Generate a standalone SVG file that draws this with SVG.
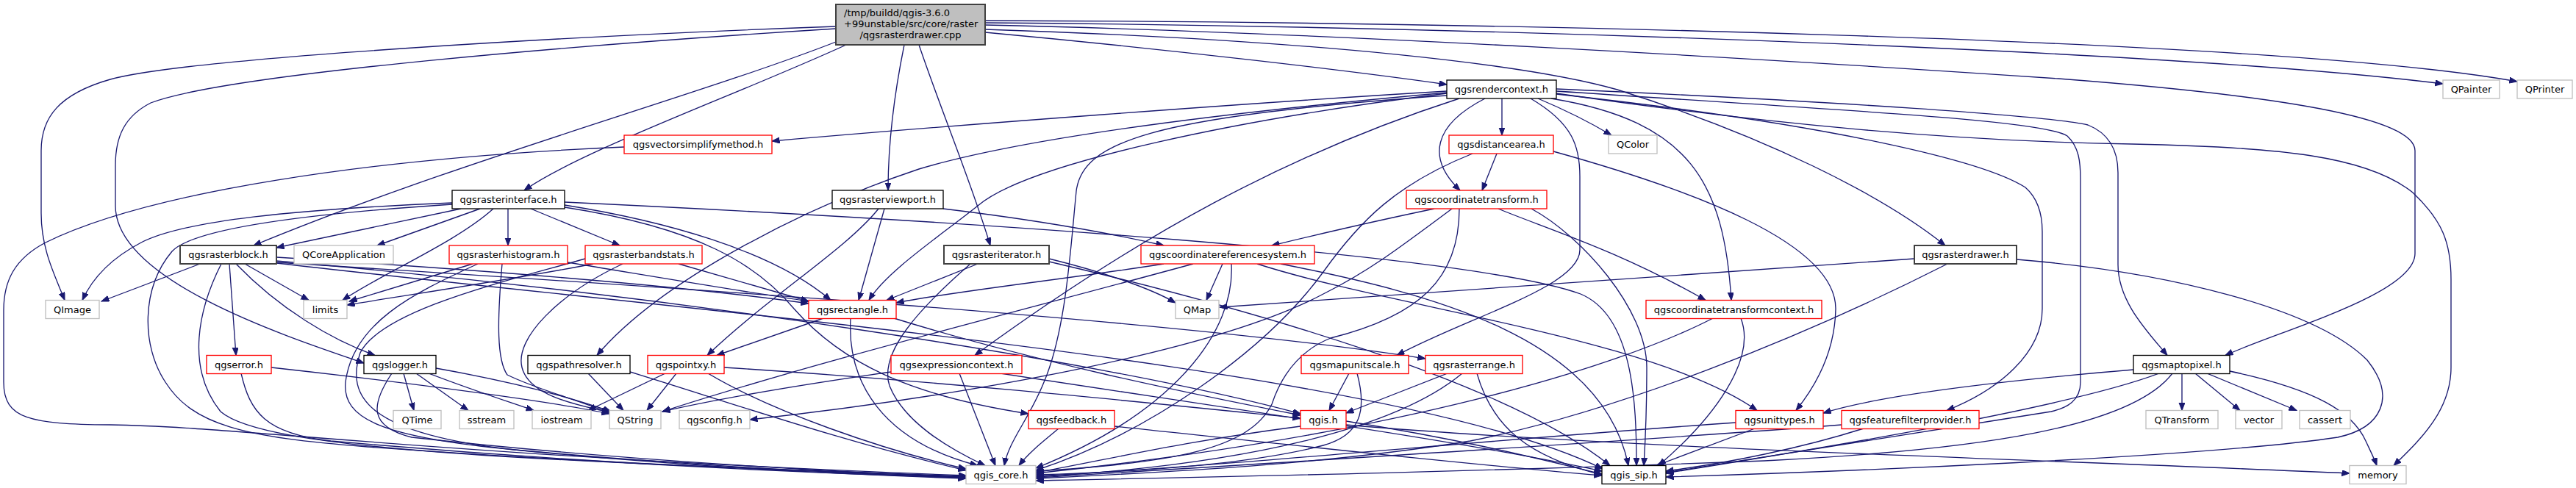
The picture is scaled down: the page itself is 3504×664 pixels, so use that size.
<svg xmlns="http://www.w3.org/2000/svg" width="3504" height="664" viewBox="0 0 3504 664">
<defs>
<marker id="a" markerWidth="12" markerHeight="9" refX="10.5" refY="4" orient="auto" markerUnits="userSpaceOnUse"><path d="M0,0 L10.5,4 L0,8 z" fill="#191970" stroke="#191970" stroke-width="1"/></marker>
</defs>
<style>
.e path{fill:none;stroke:#191970;stroke-width:1.33;marker-end:url(#a)}
rect{fill:#fff;stroke-width:1.33}
.b rect{stroke:#000}
.d rect{stroke:#404040;stroke-width:2}
.r rect{stroke:#ff0000}
.g rect{stroke:#bfbfbf}
text{font-family:"DejaVu Sans","Liberation Sans",sans-serif;font-size:13px;fill:#000;text-anchor:middle}
</style>
<rect width="3504" height="664" fill="#fff" stroke="none"/>
<g class="e" id="edges">
<path d="M1137,36 C800,48 260,78 150,108 C80,128 56,160 56,205 L56,290 C56,340 75,375 88,408.5"/>
<path d="M1137,39 C800,60 310,100 205,140 C170,158 157,185 157,225 L157,280 C157,380 380,455 495,494"/>
<path d="M1137,57 C950,130 620,220 345,334"/>
<path d="M1151,61 C1000,130 790,205 713,259"/>
<path d="M1230,61 C1218,120 1208,190 1208,259"/>
<path d="M1250,61 C1280,150 1322,250 1347,334"/>
<path d="M1340,44 C1600,68 1850,98 1968,115"/>
<path d="M1340,40 C1800,55 2080,88 2200,122 C2400,185 2560,265 2646,334"/>
<path d="M1340,34 C1800,44 2400,80 2800,107 C3100,130 3285,160 3285,205 L3285,345 C3285,400 3100,450 3027,483.5"/>
<path d="M1340,31 C2000,36 2950,68 3323,114"/>
<path d="M1340,28 C2000,30 3100,52 3424,111"/>
<path d="M1968,124 C1700,140 1300,170 1050,192"/>
<path d="M2043,134 L2043,184"/>
<path d="M2092,134 C2130,150 2162,166 2192,184"/>
<path d="M2020,134 C1950,170 1940,215 1986,259"/>
<path d="M1968,127 C1700,160 1400,220 1330,280 C1280,320 1205,370 1182,408.5"/>
<path d="M2110,134 C2300,165 2345,250 2355,408.5"/>
<path d="M1968,126 C1700,150 1400,185 1250,230 C1100,280 900,380 812,483.5"/>
<path d="M1985,134 C1750,210 1550,320 1326,483.5"/>
<path d="M2082,134 C2140,168 2149,200 2149,240 L2149,340 C2149,390 2000,430 1900,483.5"/>
<path d="M2117,121 C2500,138 2790,158 2840,170 C2870,182 2881,205 2881,235 L2881,360 C2881,410 2920,450 2948,483.5"/>
<path d="M2117,128 C2500,170 2700,220 2755,255 C2772,270 2778,290 2778,315 L2778,420 C2778,480 2720,530 2648,558.5"/>
<path d="M1968,130 C1560,158 1472,195 1464,260 C1456,340 1450,450 1420,520 C1400,570 1372,600 1366,633.5"/>
<path d="M2117,124 C2500,150 2780,163 2812,185 C2828,200 2830,220 2830,245 L2830,520 C2830,545 2812,555 2790,560 C2600,590 2400,622 2266,643"/>
<path d="M2117,127 C2400,168 2650,192 2900,196 C3100,200 3220,212 3282,262 C3322,300 3334,330 3334,380 L3334,500 C3334,560 3290,600 3256,633.5"/>
<path d="M849,200 C500,215 200,262 62,330 C20,352 5,382 5,422 L5,520 C5,570 40,577 150,578 C320,580 600,620 1314,647"/>
<path d="M2036,209 L2016,259"/>
<path d="M2003,209 C1900,250 1850,300 1800,370 C1720,480 1560,590 1409,640"/>
<path d="M2113,206 C2300,258 2497,330 2497,420 C2496,480 2470,525 2443,558.5"/>
<path d="M1951,284 C1850,305 1780,322 1730,334"/>
<path d="M1985,284 C1985,380 1930,430 1810,460 C1760,480 1740,520 1730,550 C1700,610 1600,630 1409,641"/>
<path d="M1975,284 C1900,340 1860,370 1800,400 C1650,480 1300,540 1020,571"/>
<path d="M2038,284 C2100,310 2200,340 2320,408.5"/>
<path d="M2083,284 C2150,320 2240,420 2240,500 C2240,570 2238,600 2236,633.5"/>
<path d="M1583,359 C1450,380 1300,396 1219,412"/>
<path d="M1623,359 C1400,420 1100,495 901,560"/>
<path d="M1663,359 L1641,408.5"/>
<path d="M1675,359 C1680,450 1600,560 1409,637"/>
<path d="M1710,359 C1900,420 2250,460 2390,558.5"/>
<path d="M1742,359 C1950,400 2180,460 2215,633.5"/>
<path d="M1195,284 C1150,340 1050,400 962,483.5"/>
<path d="M1203,284 L1168,408.5"/>
<path d="M1283,284 C1400,298 1500,315 1583,334"/>
<path d="M615,276 C400,285 250,300 192,330 C150,352 125,380 112,408.5"/>
<path d="M615,278 C400,292 262,312 234,342 C192,392 192,470 225,520 C262,578 330,595 500,608 C800,630 1100,641 1314,649"/>
<path d="M627,284 L376,337"/>
<path d="M653,284 L513,334"/>
<path d="M671,284 C620,330 520,372 466,408.5"/>
<path d="M691,284 L691,334"/>
<path d="M722,284 L843,334"/>
<path d="M768,275 C1300,300 2000,345 2150,400 C2222,430 2226,550 2226,633.5"/>
<path d="M768,279 C900,300 1050,340 1130,408.5"/>
<path d="M768,282 C950,310 1030,360 1080,420 C1150,500 1250,540 1399,563"/>
<path d="M272,359 L138,410"/>
<path d="M301,359 C270,420 252,500 300,560 C360,612 700,626 1314,648"/>
<path d="M312,359 L321,483.5"/>
<path d="M321,359 C380,420 450,462 510,483.5"/>
<path d="M333,359 L420,408.5"/>
<path d="M376,350 C700,370 950,392 1100,413"/>
<path d="M376,355 C900,400 1500,490 1769,563"/>
<path d="M376,357 C900,390 1600,435 1939,488"/>
<path d="M376,358 C1000,430 1900,500 2180,638"/>
<path d="M643,359 L475,410"/>
<path d="M650,359 C560,400 480,440 470,520 C465,570 520,595 700,612 C900,630 1100,643 1314,650"/>
<path d="M772,357 C900,378 1000,395 1100,410"/>
<path d="M683,359 C676,440 676,490 690,510 C730,530 790,545 829,562"/>
<path d="M807,359 C700,380 550,402 472,415"/>
<path d="M847,359 C760,400 700,460 710,500 C720,540 790,552 829,561"/>
<path d="M923,359 L1100,410"/>
<path d="M796,352 C700,380 520,420 490,480 C470,540 500,590 700,612 C900,632 1100,644 1314,651"/>
<path d="M1330,359 L1206,408.5"/>
<path d="M1320,359 C1250,420 1195,480 1210,525 C1230,575 1290,610 1340,633.5"/>
<path d="M1427,352 C1500,370 1565,392 1599,412"/>
<path d="M1427,356 C1700,420 2050,520 2190,633.5"/>
<path d="M2604,352 C2200,380 1900,400 1659,418"/>
<path d="M2649,359 C2450,460 2200,560 2000,600 C1800,632 1600,642 1409,651"/>
<path d="M2743,353 C2950,370 3150,420 3220,490 C3260,540 3240,582 3180,595 C3000,622 2500,642 2266,649"/>
<path d="M2902,503 C2700,520 2550,540 2480,562"/>
<path d="M2937,508 C2800,560 2400,622 2266,644"/>
<path d="M2955,508 C2900,580 2700,612 2400,627 C2000,642 1700,648 1409,654"/>
<path d="M2968,508 L2968,558.5"/>
<path d="M2986,508 L3047,558.5"/>
<path d="M3002,508 L3124,558.5"/>
<path d="M3033,505 C3150,530 3200,560 3218,600 C3225,615 3230,625 3233,633.5"/>
<path d="M1120,433 L975,483.5"/>
<path d="M1157,433 C1152,520 1200,600 1330,633.5"/>
<path d="M1216,433 C1400,490 1600,532 1769,565"/>
<path d="M905,508 L800,558.5"/>
<path d="M920,508 L880,558.5"/>
<path d="M963,508 C1050,560 1200,612 1314,638"/>
<path d="M985,500 C1300,520 1600,552 1769,569"/>
<path d="M800,508 L848,558.5"/>
<path d="M857,506 C1000,550 1150,602 1314,640"/>
<path d="M1212,506 C1100,522 980,542 901,560"/>
<path d="M1305,508 L1354,633.5"/>
<path d="M1361,508 C1700,560 2000,602 2179,641"/>
<path d="M1835,508 L1808,558.5"/>
<path d="M1846,508 C1860,560 1850,592 1800,606 C1700,632 1550,642 1409,646"/>
<path d="M1969,508 L1831,562"/>
<path d="M1989,508 C1900,582 1700,632 1409,649"/>
<path d="M2009,508 C2030,582 2080,622 2179,646"/>
<path d="M1769,580 C1600,602 1500,627 1409,643"/>
<path d="M1831,573 C2000,600 2100,626 2179,645"/>
<path d="M1831,578 C2200,610 2800,626 3196,644"/>
<path d="M1440,583 C1420,600 1400,615 1386,633.5"/>
<path d="M1516,580 C1800,610 2000,632 2179,647"/>
<path d="M2361,575 C2000,600 1700,632 1409,648"/>
<path d="M2387,583 L2253,633.5"/>
<path d="M2535,583 C2450,610 2350,630 2266,641"/>
<path d="M2505,578 C2200,602 1700,632 1409,650"/>
<path d="M2330,433 C2200,500 1900,592 1409,644"/>
<path d="M2368,433 C2390,490 2330,570 2256,633.5"/>
<path d="M533,508 C505,550 500,580 560,595 C800,622 1100,641 1314,649"/>
<path d="M549,508 L563,558.5"/>
<path d="M566,508 L637,558.5"/>
<path d="M583,508 C640,530 690,546 726,558.5"/>
<path d="M593,501 C700,520 780,542 831,560"/>
<path d="M369,500 C550,520 750,546 829,563"/>
<path d="M328,508 C340,560 360,590 450,600 C700,622 1000,641 1314,650"/>
</g>
<g id="root"><rect x="1137" y="6" width="203" height="55" fill="#bfbfbf" style="fill:#bfbfbf;stroke:#404040;stroke-width:2"/><text x="1148" y="22" style="text-anchor:start">/tmp/buildd/qgis-3.6.0</text><text x="1148" y="37" style="text-anchor:start">+99unstable/src/core/raster</text><text x="1238.5" y="52">/qgsrasterdrawer.cpp</text></g>
<g id="n1" class="b"><rect x="1968" y="109" width="149" height="25"/><text x="2042.5" y="126">qgsrendercontext.h</text></g>
<g id="n2" class="g"><rect x="3323" y="109" width="77" height="25"/><text x="3361.5" y="126">QPainter</text></g>
<g id="n3" class="g"><rect x="3424" y="109" width="75" height="25"/><text x="3461.5" y="126">QPrinter</text></g>
<g id="n4" class="r"><rect x="849" y="184" width="201" height="25"/><text x="949.5" y="201">qgsvectorsimplifymethod.h</text></g>
<g id="n5" class="r"><rect x="1971" y="184" width="142" height="25"/><text x="2042" y="201">qgsdistancearea.h</text></g>
<g id="n6" class="g"><rect x="2188" y="184" width="66" height="25"/><text x="2221" y="201">QColor</text></g>
<g id="n7" class="b"><rect x="615" y="259" width="153" height="25"/><text x="691.5" y="276">qgsrasterinterface.h</text></g>
<g id="n8" class="b"><rect x="1132" y="259" width="151" height="25"/><text x="1207.5" y="276">qgsrasterviewport.h</text></g>
<g id="n9" class="r"><rect x="1913" y="259" width="191" height="25"/><text x="2008.5" y="276">qgscoordinatetransform.h</text></g>
<g id="n10" class="d"><rect x="245" y="334" width="131" height="25"/><text x="310.5" y="351">qgsrasterblock.h</text></g>
<g id="n11" class="g"><rect x="400" y="334" width="135" height="25"/><text x="467.5" y="351">QCoreApplication</text></g>
<g id="n12" class="r"><rect x="611" y="334" width="161" height="25"/><text x="691.5" y="351">qgsrasterhistogram.h</text></g>
<g id="n13" class="r"><rect x="796" y="334" width="159" height="25"/><text x="875.5" y="351">qgsrasterbandstats.h</text></g>
<g id="n14" class="d"><rect x="1284" y="334" width="143" height="25"/><text x="1355.5" y="351">qgsrasteriterator.h</text></g>
<g id="n15" class="r"><rect x="1552" y="334" width="236" height="25"/><text x="1670" y="351">qgscoordinatereferencesystem.h</text></g>
<g id="n16" class="d"><rect x="2604" y="334" width="139" height="25"/><text x="2673.5" y="351">qgsrasterdrawer.h</text></g>
<g id="n17" class="g"><rect x="62" y="408.5" width="73" height="25"/><text x="98.5" y="425.5">QImage</text></g>
<g id="n18" class="g"><rect x="413" y="408.5" width="59" height="25"/><text x="442.5" y="425.5">limits</text></g>
<g id="n19" class="r"><rect x="1100" y="408.5" width="119" height="25"/><text x="1159.5" y="425.5">qgsrectangle.h</text></g>
<g id="n20" class="g"><rect x="1599" y="408.5" width="59" height="25"/><text x="1628.5" y="425.5">QMap</text></g>
<g id="n21" class="r"><rect x="2239" y="408.5" width="239" height="25"/><text x="2358.5" y="425.5">qgscoordinatetransformcontext.h</text></g>
<g id="n22" class="r"><rect x="281" y="483.5" width="88" height="25"/><text x="325" y="500.5">qgserror.h</text></g>
<g id="n23" class="b"><rect x="495" y="483.5" width="98" height="25"/><text x="544" y="500.5">qgslogger.h</text></g>
<g id="n24" class="b"><rect x="718" y="483.5" width="139" height="25"/><text x="787.5" y="500.5">qgspathresolver.h</text></g>
<g id="n25" class="r"><rect x="881" y="483.5" width="104" height="25"/><text x="933" y="500.5">qgspointxy.h</text></g>
<g id="n26" class="r"><rect x="1212" y="483.5" width="178" height="25"/><text x="1301" y="500.5">qgsexpressioncontext.h</text></g>
<g id="n27" class="r"><rect x="1770" y="483.5" width="146" height="25"/><text x="1843" y="500.5">qgsmapunitscale.h</text></g>
<g id="n28" class="r"><rect x="1939" y="483.5" width="132" height="25"/><text x="2005" y="500.5">qgsrasterrange.h</text></g>
<g id="n29" class="b"><rect x="2902" y="483.5" width="131" height="25"/><text x="2967.5" y="500.5">qgsmaptopixel.h</text></g>
<g id="n30" class="g"><rect x="535" y="558.5" width="65" height="25"/><text x="567.5" y="575.5">QTime</text></g>
<g id="n31" class="g"><rect x="625" y="558.5" width="74" height="25"/><text x="662" y="575.5">sstream</text></g>
<g id="n32" class="g"><rect x="724" y="558.5" width="80" height="25"/><text x="764" y="575.5">iostream</text></g>
<g id="n33" class="g"><rect x="829" y="558.5" width="70" height="25"/><text x="864" y="575.5">QString</text></g>
<g id="n34" class="g"><rect x="924" y="558.5" width="96" height="25"/><text x="972" y="575.5">qgsconfig.h</text></g>
<g id="n35" class="r"><rect x="1399" y="558.5" width="117" height="25"/><text x="1457.5" y="575.5">qgsfeedback.h</text></g>
<g id="n36" class="r"><rect x="1769" y="558.5" width="62" height="25"/><text x="1800" y="575.5">qgis.h</text></g>
<g id="n37" class="r"><rect x="2361" y="558.5" width="119" height="25"/><text x="2420.5" y="575.5">qgsunittypes.h</text></g>
<g id="n38" class="r"><rect x="2505" y="558.5" width="187" height="25"/><text x="2598.5" y="575.5">qgsfeaturefilterprovider.h</text></g>
<g id="n39" class="g"><rect x="2919" y="558.5" width="98" height="25"/><text x="2968" y="575.5">QTransform</text></g>
<g id="n40" class="g"><rect x="3041" y="558.5" width="63" height="25"/><text x="3072.5" y="575.5">vector</text></g>
<g id="n41" class="g"><rect x="3128" y="558.5" width="69" height="25"/><text x="3162.5" y="575.5">cassert</text></g>
<g id="n42" class="g"><rect x="1314" y="633.5" width="95" height="25"/><text x="1361.5" y="650.5">qgis_core.h</text></g>
<g id="n43" class="b"><rect x="2179" y="633.5" width="87" height="25"/><text x="2222.5" y="650.5">qgis_sip.h</text></g>
<g id="n44" class="g"><rect x="3196" y="633.5" width="77" height="25"/><text x="3234.5" y="650.5">memory</text></g>
</svg>
